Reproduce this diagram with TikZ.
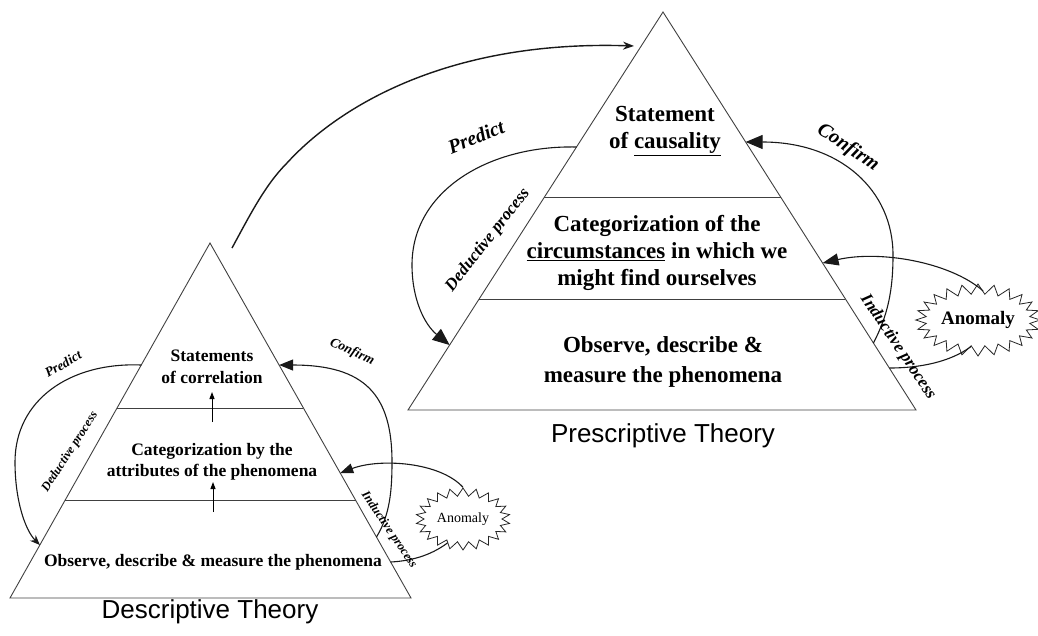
\documentclass[tikz,border=0pt]{standalone}
\usepackage{fontspec}
\setmainfont{Liberation Serif}
\setsansfont{Liberation Sans}
\usetikzlibrary{arrows.meta,shapes.symbols,calc}
\begin{document}
\begin{tikzpicture}[x=1pt,y=-1pt,
  pyr/.style={draw=black!75, line width=0.9pt},
  conn/.style={draw=black!90, line width=1.1pt},
  bigtxt/.style={font=\bfseries\fontsize{23}{27}\selectfont, align=center, inner sep=0pt},
  smtxt/.style={font=\bfseries\fontsize{17.5}{21.5}\selectfont, align=center, inner sep=0pt},
  ttl/.style={font=\sffamily\fontsize{26}{30}\selectfont, inner sep=0pt},
  lblR/.style={font=\bfseries\itshape\fontsize{20}{22}\selectfont, inner sep=0pt},
  lblRs/.style={font=\bfseries\itshape\fontsize{17}{19}\selectfont, inner sep=0pt},
  lblL/.style={font=\bfseries\itshape\fontsize{13.5}{15}\selectfont, inner sep=0pt},
  lblLs/.style={font=\bfseries\itshape\fontsize{12.5}{14}\selectfont, inner sep=0pt},
  burst/.style={shape=starburst, draw=black!85, line width=0.8pt, fill=white,
    random starburst=0, inner sep=0pt},
  bigtip/.style={-{Triangle[length=17pt,width=14pt]}},
  midtip/.style={-{Triangle[length=14pt,width=11pt]}},
  smalltip/.style={-{Stealth[length=10pt,width=8pt]}},
]
\useasboundingbox (0,0) rectangle (1038,635);

% ---------------- Left pyramid (Descriptive) ----------------
\coordinate (LA) at (210,243);
\coordinate (LBl) at (10,598);
\coordinate (LBr) at (411,598);
\draw[pyr] (LA) -- (LBr) -- (LBl) -- cycle;
\draw[pyr] ($(LA)!0.4648!(LBl)$) -- ($(LA)!0.4648!(LBr)$);
\draw[pyr] ($(LA)!0.7239!(LBl)$) -- ($(LA)!0.7239!(LBr)$);

\node[smtxt] (l1) at (212,367) {Statements\\of correlation};
\node[smtxt] (l2) at (212,462) {Categorization by the\\attributes of the phenomena};
\node[smtxt] (l3) at (213,562) {Observe, describe \& measure the phenomena};
\node[ttl] (ldt) at (210,612) {Descriptive Theory};

\coordinate (u1s) at (212,422); \coordinate (u1e) at (212,392);
\coordinate (u2s) at (213,512); \coordinate (u2e) at (213,482);
\draw[line width=1pt, -{Triangle[length=7pt,width=5pt]}] (u1s) -- (u1e);
\draw[line width=1pt, -{Triangle[length=7pt,width=5pt]}] (u2s) -- (u2e);

% Predict / deductive (left)
\coordinate (lp1) at ($(LA)!0.3437!(LBl)$);
\coordinate (lp2) at ($(LA)!0.8507!(LBl)$);
\draw[conn, smalltip] (lp1) .. controls (70,362) and (15,400) .. (15,462)
  .. controls (15,500) and (25,530) .. (lp2);
\node[lblL, rotate=30] (lpred) at (63,364) {Predict};
\node[lblLs, rotate=57] (lded) at (70,452) {Deductive process};

% Confirm (left)
\coordinate (lc1) at ($(LA)!0.8282!(LBr)$);
\coordinate (lc2) at ($(LA)!0.3437!(LBr)$);
\draw[conn, midtip] (lc1) .. controls (390,515) and (392,490) .. (392,462)
  .. controls (392,395) and (365,365) .. (lc2);
\node[lblL, rotate=-25] (lconf) at (352,352) {Confirm};

% Anomaly (left)
\node[burst, starburst points=22, starburst point height=8pt,
  minimum width=94pt, minimum height=62pt,
  font=\fontsize{14}{16}\selectfont] (anL) at (463,519) {Anomaly};
\coordinate (la2) at ($(LA)!0.6479!(LBr)$);
\coordinate (li1) at ($(LA)!0.8986!(LBr)$);
\draw[conn, -{Triangle[length=13pt,width=10pt]}] (anL.90) .. controls (440,462) and (380,458) .. (la2);
\draw[conn] (anL.-123) .. controls (430,556) and (410,561) .. (li1);
\node[lblLs, rotate=-56] (lind) at (389,530) {Inductive process};

% ---------------- Right pyramid (Prescriptive) ----------------
\coordinate (RA) at (663,12);
\coordinate (RBl) at (408,410);
\coordinate (RBr) at (916,410);
\draw[pyr] (RA) -- (RBr) -- (RBl) -- cycle;
\draw[pyr] ($(RA)!0.4648!(RBl)$) -- ($(RA)!0.4648!(RBr)$);
\draw[pyr] ($(RA)!0.7211!(RBl)$) -- ($(RA)!0.7211!(RBr)$);

\node[bigtxt] (r1) at (665,131) {Statement\\of \underline{causality}};
\node[bigtxt] (r2) at (657,253) {Categorization of the\\\underline{circumstances} in which we\\might find ourselves};
\node[bigtxt] (r3) at (663,362) {Observe, describe \&\\[3pt]measure the phenomena};
\node[ttl] (rpt) at (663,436) {Prescriptive Theory};

% big arc from descriptive to prescriptive
\coordinate (bs) at (232,248);
\coordinate (be) at (634,46);
\draw[conn, line width=1.4pt, -{Stealth[length=11pt,width=8pt]}] (bs) .. controls (250,215) and (265,185) .. (287,163)
  .. controls (340,105) and (450,40) .. (be);

% Predict / deductive (right)
\coordinate (rp1) at ($(RA)!0.3392!(RBl)$);
\coordinate (rp2) at ($(RA)!0.8367!(RBl)$);
\draw[conn, bigtip] (rp1) .. controls (490,145) and (412,190) .. (412,265)
  .. controls (412,300) and (425,325) .. (rp2);
\node[lblR, rotate=22] (rpred) at (476,137) {Predict};
\node[lblRs, rotate=52] (rded) at (488,240) {Deductive process};

% Confirm (right)
\coordinate (rc1) at ($(RA)!0.8317!(RBr)$);
\coordinate (rc2) at ($(RA)!0.3266!(RBr)$);
\draw[conn, bigtip] (rc1) .. controls (888,315) and (893,290) .. (893,255)
  .. controls (893,190) and (840,142) .. (rc2);
\node[lblR, rotate=-34] (rconf) at (848,148) {Confirm};

% Anomaly (right)
\node[burst, starburst points=24, starburst point height=10pt,
  minimum width=112pt, minimum height=72pt,
  font=\bfseries\fontsize{19}{21}\selectfont] (anR) at (978,320) {Anomaly};
\coordinate (ra2) at ($(RA)!0.6307!(RBr)$);
\coordinate (ri1) at ($(RA)!0.8945!(RBr)$);
\draw[conn, -{Triangle[length=16pt,width=12pt]}] (anR.80) .. controls (950,262) and (880,250) .. (ra2);
\draw[conn] (anR.-105) .. controls (950,362) and (920,368) .. (ri1);
\node[lblRs, rotate=-56] (rind) at (898,347) {Inductive process};
\end{tikzpicture}
\end{document}
